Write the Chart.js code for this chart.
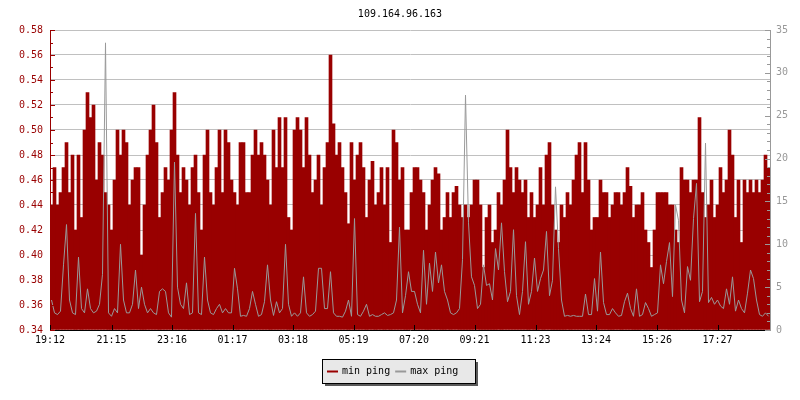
<!DOCTYPE html>
<html>
<head>
<meta charset="utf-8">
<title>109.164.96.163</title>
<script src="https://cdn.jsdelivr.net/npm/chart.js@4.4.1/dist/chart.umd.min.js"></script>
<style>
    html, body { margin: 0; padding: 0; background: #fff; }
    #wrap { width: 800px; height: 400px; }
</style>
</head>
<body>
<div id="wrap"><canvas id="pingChart" width="800" height="400"></canvas></div>
<script>
const chartTitle = '109.164.96.163';
const seriesNames = ['min ping', 'max ping'];

// time axis: 24h from the first label, one sample every 6 minutes
const startLabel = '19:12';
const sampleMinutes = 6;
const timeLabels = ['19:12', '21:15', '23:16', '01:17', '03:18', '05:19', '07:20', '09:21', '11:23', '13:24', '15:26', '17:27'];
const pingTicks = [0.34, 0.36, 0.38, 0.40, 0.42, 0.44, 0.46, 0.48, 0.50, 0.52, 0.54, 0.56, 0.58];
const maxTicks = [0, 5, 10, 15, 20, 25, 30, 35];

const minPing = [
    0.44, 0.47, 0.44, 0.45, 0.47, 0.49, 0.45, 0.48, 0.42, 0.48,
    0.43, 0.50, 0.53, 0.51, 0.52, 0.46, 0.49, 0.48, 0.45, 0.44,
    0.42, 0.46, 0.50, 0.48, 0.50, 0.49, 0.44, 0.46, 0.47, 0.47,
    0.40, 0.44, 0.48, 0.50, 0.52, 0.49, 0.43, 0.45, 0.47, 0.46,
    0.50, 0.53, 0.48, 0.45, 0.47, 0.46, 0.44, 0.47, 0.48, 0.45,
    0.42, 0.48, 0.50, 0.45, 0.44, 0.47, 0.50, 0.45, 0.50, 0.49,
    0.46, 0.45, 0.44, 0.49, 0.49, 0.45, 0.45, 0.48, 0.50, 0.48,
    0.49, 0.48, 0.46, 0.44, 0.50, 0.47, 0.51, 0.47, 0.51, 0.43,
    0.42, 0.50, 0.51, 0.50, 0.47, 0.51, 0.48, 0.45, 0.46, 0.48,
    0.44, 0.47, 0.49, 0.56, 0.505, 0.48, 0.49, 0.47, 0.45, 0.425,
    0.49, 0.46, 0.48, 0.49, 0.47, 0.43, 0.46, 0.475, 0.44, 0.45,
    0.47, 0.44, 0.47, 0.41, 0.50, 0.49, 0.46, 0.47, 0.42, 0.42,
    0.45, 0.47, 0.47, 0.46, 0.45, 0.42, 0.44, 0.46, 0.47, 0.465,
    0.42, 0.43, 0.45, 0.43, 0.45, 0.455, 0.44, 0.43, 0.44, 0.43,
    0.44, 0.46, 0.46, 0.44, 0.39, 0.43, 0.44, 0.41, 0.42, 0.45,
    0.44, 0.46, 0.50, 0.47, 0.45, 0.47, 0.46, 0.45, 0.46, 0.43,
    0.45, 0.43, 0.44, 0.47, 0.44, 0.48, 0.49, 0.44, 0.42, 0.41,
    0.44, 0.43, 0.45, 0.44, 0.46, 0.48, 0.49, 0.45, 0.49, 0.46,
    0.42, 0.43, 0.43, 0.46, 0.45, 0.45, 0.43, 0.44, 0.45, 0.45,
    0.44, 0.45, 0.47, 0.455, 0.43, 0.44, 0.44, 0.45, 0.42, 0.41,
    0.39, 0.42, 0.45, 0.45, 0.45, 0.45, 0.44, 0.44, 0.42, 0.41,
    0.47, 0.46, 0.46, 0.45, 0.46, 0.46, 0.51, 0.45, 0.43, 0.44,
    0.46, 0.43, 0.44, 0.47, 0.45, 0.46, 0.50, 0.48, 0.43, 0.46,
    0.41, 0.46, 0.45, 0.46, 0.45, 0.46, 0.45, 0.46, 0.48, 0.47
];

const maxPing = [
    3.5, 2.0, 1.8, 2.2, 7.6, 12.3, 3.5, 2.0, 1.8, 8.5,
    2.5, 2.0, 4.8, 2.5, 2.0, 2.2, 3.0, 6.5, 33.5, 2.0,
    1.6, 2.5, 2.0, 10.0, 3.5, 2.0, 2.0, 3.0, 7.0, 2.5,
    5.0, 3.0, 2.0, 2.5, 2.0, 1.8, 4.5, 4.8, 4.5, 2.0,
    1.5, 19.6, 5.0, 3.0, 2.5, 5.5, 1.8, 2.0, 13.6, 2.0,
    1.8, 8.5, 3.5, 2.0, 1.8, 2.5, 3.0, 2.0, 2.5, 2.0,
    2.0, 7.2, 4.8, 1.6, 1.7, 1.6, 2.5, 4.5, 3.0, 1.6,
    1.8, 3.3, 7.6, 3.5, 1.7, 3.3, 2.0, 2.5, 10.0, 3.0,
    1.6, 2.0, 1.6, 2.0, 6.2, 2.0, 1.6, 1.8, 2.2, 7.2,
    7.2, 2.5, 2.5, 6.8, 2.0, 1.6, 1.6, 1.5, 2.2, 3.5,
    1.6, 13.0, 1.8, 1.6, 2.2, 3.0, 1.6, 1.8, 1.6, 1.6,
    1.8, 2.0, 1.7, 1.8, 2.0, 3.5, 12.0, 2.0, 4.0, 6.8,
    4.5, 4.5, 3.0, 2.0, 9.3, 3.0, 7.8, 4.5, 9.1, 5.5,
    7.6, 4.5, 3.5, 2.0, 1.8, 2.0, 2.5, 8.2, 27.4, 12.5,
    6.2, 5.2, 2.5, 3.0, 7.6, 5.2, 5.4, 3.5, 9.5, 7.0,
    12.5, 6.8, 3.3, 4.5, 11.7, 4.0, 1.8, 4.5, 10.3, 3.0,
    4.5, 8.4, 4.5, 6.0, 7.0, 11.5, 4.0, 5.8, 16.7, 9.5,
    3.5, 1.6, 1.7, 1.6, 1.7, 1.6, 1.6, 1.6, 4.2, 1.8,
    1.8, 6.0, 2.2, 9.1, 3.2, 1.8, 1.8, 2.5, 2.0, 1.6,
    1.7, 3.3, 4.3, 2.5, 1.6, 4.8, 1.6, 1.8, 3.2, 2.5,
    1.6, 1.8, 2.0, 7.6, 5.4, 8.0, 10.2, 3.9, 14.6, 12.8,
    3.5, 2.0, 7.4, 5.8, 13.0, 17.1, 3.3, 4.5, 21.8, 3.2,
    3.8, 3.0, 3.5, 2.8, 2.5, 4.8, 3.0, 6.2, 2.2, 3.5,
    2.5, 2.0, 4.3, 7.0, 6.0, 3.5, 1.8, 1.6, 2.0, 1.6
];

const minColor = '#990000';
const maxColor = '#999999';
const monoFont = { family: "'DejaVu Sans Mono', 'Liberation Mono', monospace", size: 10, weight: 'normal' };

function toMinutes(label) {
    let startParts = startLabel.split(':').map(Number);
    let parts = label.split(':').map(Number);
    let start = startParts[0] * 60 + startParts[1];
    return (parts[0] * 60 + parts[1] - start + 1440) % 1440;
}

const tickMinutes = timeLabels.map(toMinutes);

function toPoints(values) {
    let points = [];
    for (let i = 0; i < values.length; i++) {
        points.push({ x: i * sampleMinutes + sampleMinutes / 2, y: values[i] });
    }
    return points;
}

// ticks in this chart point into the plot area
const innerTicks = {
    id: 'innerTicks',
    afterDatasetsDraw(chart) {
        let ctx = chart.ctx;
        let area = chart.chartArea;
        let y = chart.scales.y;
        let y2 = chart.scales.y2;
        let x = chart.scales.x;
        ctx.save();
        ctx.lineWidth = 1;

        ctx.strokeStyle = minColor;
        let lo = Math.round(pingTicks[0] * 100);
        let hi = Math.round(pingTicks[pingTicks.length - 1] * 100);
        for (let v = lo; v <= hi; v++) {
            let py = Math.round(y.getPixelForValue(v / 100)) + 0.5;
            let len = v % 2 === 0 ? 5 : 3;
            ctx.beginPath();
            ctx.moveTo(area.left, py);
            ctx.lineTo(area.left + len, py);
            ctx.stroke();
        }

        ctx.strokeStyle = maxColor;
        for (let v = maxTicks[0]; v <= maxTicks[maxTicks.length - 1]; v++) {
            let py = Math.round(y2.getPixelForValue(v)) + 0.5;
            let len = v % 5 === 0 ? 5 : 3;
            ctx.beginPath();
            ctx.moveTo(area.right, py);
            ctx.lineTo(area.right - len, py);
            ctx.stroke();
        }

        ctx.strokeStyle = '#000';
        for (let i = 0; i < tickMinutes.length; i++) {
            let px = Math.round(x.getPixelForValue(tickMinutes[i])) + 0.5;
            ctx.beginPath();
            ctx.moveTo(px, area.bottom);
            ctx.lineTo(px, area.bottom - 5);
            ctx.stroke();
        }
        ctx.restore();
    }
};

// boxed legend with a drop shadow under the plot
const boxLegend = {
    id: 'boxLegend',
    afterDraw(chart) {
        let ctx = chart.ctx;
        let boxW = 153;
        let boxH = 24;
        let left = Math.floor(chart.width / 2 - boxW / 2) - 1;
        let top = 359;
        ctx.save();
        ctx.fillStyle = '#5a5a5a';
        ctx.fillRect(left + 3, top + 3, boxW, boxH);
        ctx.fillStyle = '#e8e8e8';
        ctx.fillRect(left, top, boxW, boxH);
        ctx.strokeStyle = '#000';
        ctx.lineWidth = 1;
        ctx.strokeRect(left + 0.5, top + 0.5, boxW, boxH);

        ctx.font = "10px 'DejaVu Sans Mono', 'Liberation Mono', monospace";
        ctx.textBaseline = 'middle';
        ctx.textAlign = 'left';
        let colors = [minColor, maxColor];
        let cx = left + 5;
        let cy = top + 12.5;
        for (let i = 0; i < seriesNames.length; i++) {
            ctx.fillStyle = colors[i];
            ctx.fillRect(cx, cy - 1, 11, 2);
            ctx.fillStyle = '#000';
            ctx.fillText(seriesNames[i], cx + 15, cy);
            cx += 15 + ctx.measureText(seriesNames[i]).width + 5;
        }
        ctx.restore();
    }
};

new Chart(document.getElementById('pingChart'), {
    data: {
        datasets: [{
            type: 'bar',
            label: seriesNames[0],
            data: toPoints(minPing),
            yAxisID: 'y',
            backgroundColor: minColor,
            borderWidth: 0,
            barPercentage: 1,
            categoryPercentage: 1,
            base: pingTicks[0],
            clip: 0,
            order: 2
        }, {
            type: 'line',
            label: seriesNames[1],
            data: toPoints(maxPing),
            yAxisID: 'y2',
            borderColor: maxColor,
            borderWidth: 1,
            pointRadius: 0,
            tension: 0,
            fill: false,
            order: 1
        }]
    },
    options: {
        responsive: false,
        animation: false,
        devicePixelRatio: 1,
        layout: { padding: 0 },
        plugins: {
            legend: { display: false },
            tooltip: { enabled: false },
            title: {
                display: true,
                text: chartTitle,
                color: '#000',
                font: monoFont,
                padding: { top: 8, bottom: 10 }
            }
        },
        scales: {
            x: {
                type: 'linear',
                offset: false,
                min: 0,
                max: 1440,
                afterBuildTicks: (scale) => { scale.ticks = tickMinutes.map(v => ({ value: v })); },
                afterFit: (scale) => { scale.height = 70; },
                ticks: {
                    autoSkip: false,
                    maxRotation: 0,
                    color: '#000',
                    font: monoFont,
                    padding: 4,
                    callback: (value, index) => timeLabels[index]
                },
                grid: { display: false, drawTicks: false, offset: false },
                border: { display: true, color: '#000' }
            },
            y: {
                type: 'linear',
                position: 'left',
                min: pingTicks[0],
                max: pingTicks[pingTicks.length - 1],
                afterBuildTicks: (scale) => { scale.ticks = pingTicks.map(v => ({ value: v })); },
                afterFit: (scale) => { scale.width = 50; },
                ticks: {
                    color: minColor,
                    font: monoFont,
                    padding: 7,
                    callback: (value) => Number(value).toFixed(2)
                },
                grid: { color: '#c0c0c0', drawTicks: false },
                border: { display: true, color: minColor }
            },
            y2: {
                type: 'linear',
                position: 'right',
                min: maxTicks[0],
                max: maxTicks[maxTicks.length - 1],
                afterBuildTicks: (scale) => { scale.ticks = maxTicks.map(v => ({ value: v })); },
                afterFit: (scale) => { scale.width = 30; },
                ticks: {
                    color: maxColor,
                    font: monoFont,
                    padding: 6
                },
                grid: { display: false, drawTicks: false },
                border: { display: true, color: maxColor }
            }
        }
    },
    plugins: [innerTicks, boxLegend]
});
</script>
</body>
</html>
